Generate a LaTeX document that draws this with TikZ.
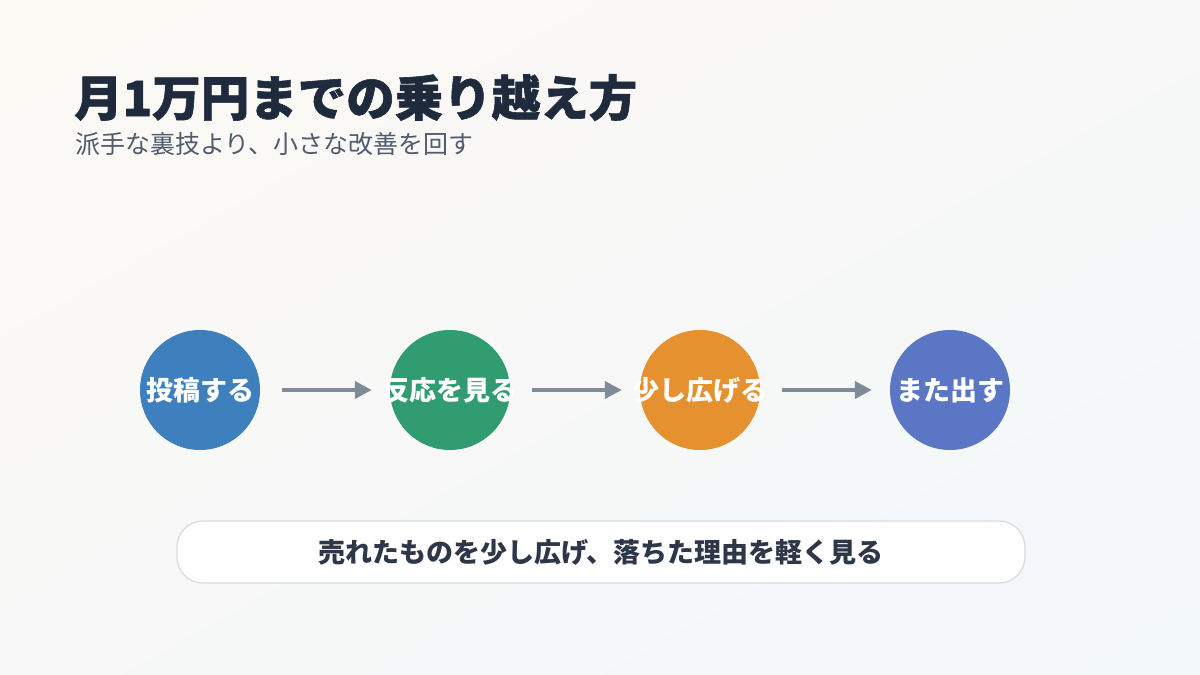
\documentclass[tikz,border=0pt]{standalone}
\usepackage{fontspec}
\setmainfont{Noto Sans CJK JP}
\newfontfamily\heavyfont[BoldFeatures={FakeBold=1.2}]{Noto Sans CJK JP}
\usetikzlibrary{arrows.meta,shadings}

\definecolor{bgwarm}{HTML}{FCF9F4}
\definecolor{bgcool}{HTML}{F2F7FA}
\definecolor{bgmid}{HTML}{F7F8F7}
\definecolor{titlecol}{HTML}{1F2B3C}
\definecolor{subcol}{HTML}{505C6C}
\definecolor{stepblue}{HTML}{3E80BD}
\definecolor{stepgreen}{HTML}{309C6F}
\definecolor{steporange}{HTML}{E6912F}
\definecolor{stepindigo}{HTML}{5B76C5}
\definecolor{arrowcol}{HTML}{7F8B98}
\definecolor{boxline}{HTML}{D4DBE2}
\definecolor{boxtext}{HTML}{2D3748}

\tikzset{
  stepdot/.style={circle,fill=#1,minimum size=120pt,inner sep=0pt},
  steptext/.style={text=white,font=\fontsize{27}{32}\selectfont\bfseries},
  flow/.style={arrowcol,line width=4pt,-{Triangle[length=17pt,width=17pt]},
    shorten <=22pt,shorten >=18pt}
}

\begin{document}
\begin{tikzpicture}[x=1pt,y=-1pt]
          \useasboundingbox (0,0) rectangle (1200,675);
          \shade[upper left=bgwarm,upper right=bgmid,lower left=bgmid,lower right=bgcool]
            (0,0) rectangle (1200,675);
          % heading
          \node[anchor=base west,inner sep=0pt,text=titlecol,font=\heavyfont\fontsize{48.5}{56}\selectfont\bfseries]
            (title) at (74,116) {月1万円までの乗り越え方};
          \node[anchor=base west,inner sep=0pt,text=subcol,font=\fontsize{25}{30}\selectfont]
            (subtitle) at (75,153) {派手な裏技より、小さな改善を回す};
          % steps
          \foreach \n/\x/\c/\t in {s1/200/stepblue/投稿する,s2/450/stepgreen/反応を見る,
                                   s3/700/steporange/少し広げる,s4/950/stepindigo/また出す}{
            \node[stepdot=\c] (\n) at (\x,390) {};
            \node[steptext] at (\n) {\t};
          }
          \draw[flow] (s1.east) -- (s2.west);
          \draw[flow] (s2.east) -- (s3.west);
          \draw[flow] (s3.east) -- (s4.west);
          % note
          \node[draw=boxline,line width=1.2pt,fill=white,rounded corners=26pt,
                minimum width=848pt,minimum height=62pt,text=boxtext,
                font=\fontsize{27}{32}\selectfont\bfseries]
            (note) at (601,552) {売れたものを少し広げ、落ちた理由を軽く見る};
        \end{tikzpicture}
\end{document}
